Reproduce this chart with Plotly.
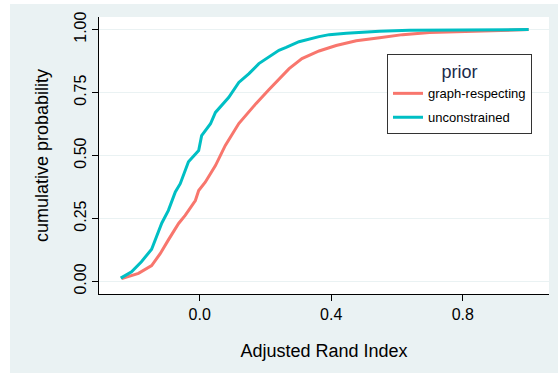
import plotly.graph_objects as go

# ---- data (Adjusted Rand Index vs cumulative probability) ----
series_names = ["graph-respecting", "unconstrained"]
series_colors = ["#F8766D", "#00BFC4"]

graph_ari = [-0.237, -0.226, -0.186, -0.146, -0.120, -0.095, -0.064, -0.044, -0.013, -0.003,
             0.017, 0.048, 0.078, 0.119, 0.140, 0.171, 0.211, 0.241, 0.272, 0.311,
             0.363, 0.415, 0.476, 0.547, 0.617, 0.699, 0.861, 1.000]
graph_cum = [0.011, 0.016, 0.032, 0.063, 0.110, 0.165, 0.230, 0.262, 0.321, 0.361,
             0.394, 0.460, 0.540, 0.627, 0.660, 0.706, 0.762, 0.802, 0.845, 0.885,
             0.915, 0.937, 0.956, 0.968, 0.980, 0.988, 0.996, 1.000]

uncon_ari = [-0.240, -0.207, -0.177, -0.146, -0.115, -0.095, -0.074, -0.059, -0.034, -0.018,
             -0.003, 0.006, 0.033, 0.048, 0.088, 0.119, 0.150, 0.180, 0.211, 0.241,
             0.263, 0.302, 0.363, 0.394, 0.446, 0.547, 0.638, 1.000]
uncon_cum = [0.013, 0.038, 0.078, 0.128, 0.232, 0.282, 0.355, 0.388, 0.475, 0.500,
             0.520, 0.579, 0.626, 0.671, 0.730, 0.790, 0.825, 0.865, 0.892, 0.918,
             0.929, 0.952, 0.972, 0.980, 0.985, 0.993, 0.997, 1.000]

x_ticks = [0.0, 0.4, 0.8]
x_tick_labels = ["0.0", "0.4", "0.8"]
y_ticks = [0.0, 0.25, 0.5, 0.75, 1.0]
y_tick_labels = ["0.00", "0.25", "0.50", "0.75", "1.00"]

BG = "#EAF2F3"
FONT = "Liberation Sans, Arial, Helvetica, sans-serif"

fig = go.Figure()
for name, xs, ys, col in [(series_names[0], graph_ari, graph_cum, series_colors[0]),
                          (series_names[1], uncon_ari, uncon_cum, series_colors[1])]:
    fig.add_trace(go.Scatter(x=xs, y=ys, mode="lines", name=name, legendgroup=name,
                             line=dict(color=col, width=3)))

L, R, T, B = 99, 9, 17, 79
W, H = 558, 373
pw, ph = W - L - R, H - T - B

def px_x(p):
    return (p - L) / pw

def px_y(p):
    return (H - B - p) / ph

fig.update_layout(
    width=W, height=H,
    margin=dict(l=L, r=R, t=T, b=B, pad=0),
    paper_bgcolor=BG, plot_bgcolor="white",
    font=dict(family=FONT, color="black"),
    xaxis=dict(range=[-0.306, 1.062], tickvals=x_ticks, ticktext=x_tick_labels,
               ticks="outside", ticklen=6, tickwidth=1, tickcolor="black",
               showline=True, linecolor="black", linewidth=1.2,
               showgrid=False, zeroline=False,
               tickfont=dict(size=16, color="black"),
               title=dict(text="Adjusted Rand Index", font=dict(size=18), standoff=22)),
    yaxis=dict(range=[-0.05, 1.05], tickvals=y_ticks, ticktext=y_tick_labels,
               tickangle=-90,
               ticks="outside", ticklen=6, tickwidth=1, tickcolor="black",
               showline=True, linecolor="black", linewidth=1.2,
               showgrid=True, gridcolor=BG, gridwidth=1, zeroline=False,
               tickfont=dict(size=16, color="black"),
               title=dict(text="cumulative probability", font=dict(size=18), standoff=18)),
    legend=dict(x=px_x(387), y=px_y(54), xanchor="left", yanchor="top",
                bgcolor="white", bordercolor="#333333", borderwidth=1,
                traceorder="grouped", tracegroupgap=4,
                font=dict(size=13, color="black"),
                title=dict(text="prior", side="top center",
                           font=dict(size=18, color="#1A2A4A"))),
    shapes=[
        dict(type="rect", xref="paper", yref="paper", layer="above",
             x0=px_x(-5), x1=px_x(10), y0=px_y(H + 5), y1=px_y(-5),
             fillcolor="white", line=dict(width=0)),
        dict(type="rect", xref="paper", yref="paper", layer="above",
             x0=px_x(-5), x1=px_x(W + 5), y0=px_y(4), y1=px_y(-5),
             fillcolor="white", line=dict(width=0)),
    ],
)

fig.write_html("out.html", config={"displayModeBar": False},
               post_script="document.body.style.margin='0';")
